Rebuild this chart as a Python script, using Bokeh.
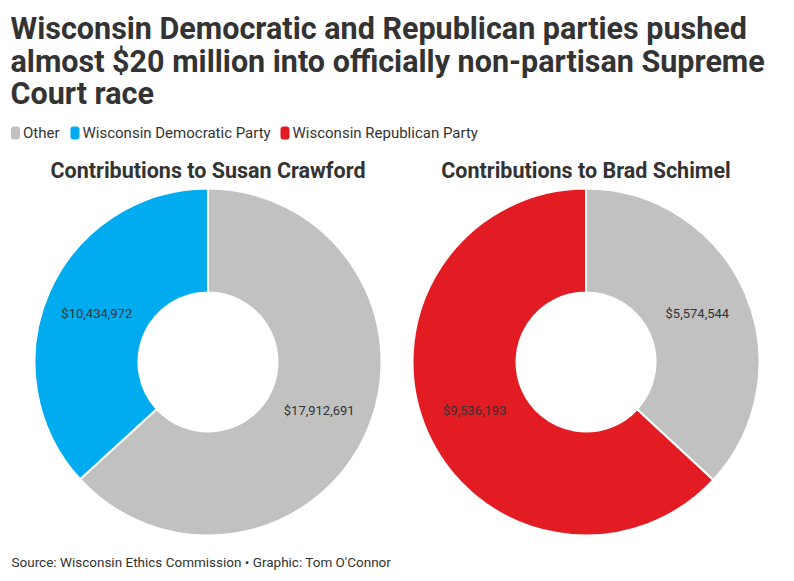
import numpy as np
from bokeh.plotting import figure
from bokeh.models import Range1d, ColumnDataSource
from bokeh.core.properties import value
from bokeh.embed import file_html
from bokeh.resources import INLINE

title_lines = ["Wisconsin Democratic and Republican parties pushed",
               "almost $20 million into officially non-partisan Supreme",
               "Court race"]
legend_labels = ["Other", "Wisconsin Democratic Party", "Wisconsin Republican Party"]
legend_colors = ["#c1c1c1", "#00acef", "#e31b23"]

candidates = ["Contributions to Susan Crawford", "Contributions to Brad Schimel"]
crawford_labels = ["Other", "Wisconsin Democratic Party"]
crawford_values = [17912691, 10434972]
crawford_colors = ["#c1c1c1", "#00acef"]
schimel_labels = ["Other", "Wisconsin Republican Party"]
schimel_values = [5574544, 9536193]
schimel_colors = ["#c1c1c1", "#e31b23"]
source_text = "Source: Wisconsin Ethics Commission \u2022 Graphic: Tom O'Connor"

W, H = 790, 572
OX, OY = 1, 1  # observed figure origin in the screenshot
p = figure(width=W, height=H, output_backend="svg", toolbar_location=None,
           x_range=Range1d(OX, OX + W), y_range=Range1d(581 - OY - H, 581 - OY),
           min_border=0, tools="")
p.axis.visible = False
p.grid.visible = False
p.outline_line_color = None
p.background_fill_color = "white"

def Y(img_y):
    return 581 - img_y

FONT = "Roboto"
TXT = "#333333"

# title
for line, yy in zip(title_lines, [29, 62, 94]):
    p.text(x=[11], y=[Y(yy)], text=[line], text_font=value(FONT), text_font_style="bold",
           text_font_size="30.5px", text_color=TXT, text_baseline="alphabetic", text_align="left")

# legend
legend_marker_x = [16, 75.5, 285.5]
for lab, col, mx in zip(legend_labels, legend_colors, legend_marker_x):
    p.rect(x=[mx], y=[Y(133.5)], width=9, height=13, fill_color=col, line_color=None,
           border_radius=3)
    p.text(x=[mx + 7.5], y=[Y(133.5)], text=[lab], text_font=value(FONT), text_font_size="15px",
           text_color=TXT, text_baseline="middle", text_align="left")

R_OUT, R_IN = 173.5, 69.5
centers = [(208.5, 362.5), (586.5, 362.5)]
datasets = [(crawford_labels, crawford_values, crawford_colors),
            (schimel_labels, schimel_values, schimel_colors)]

for (cx, cy), cand, (labs, vals, cols) in zip(centers, candidates, datasets):
    vals = np.array(vals, dtype=float)
    frac = vals / vals.sum()
    cum = np.concatenate([[0], np.cumsum(frac)])
    start = np.pi / 2 - 2 * np.pi * cum[:-1]
    end = np.pi / 2 - 2 * np.pi * cum[1:]
    mid = (start + end) / 2
    rl = (R_OUT + R_IN) / 2
    src = ColumnDataSource(dict(start=start, end=end, color=cols,
                                lx=cx + rl * np.cos(mid), ly=Y(cy) + rl * np.sin(mid),
                                lab=["$" + f"{int(v):,}" for v in vals]))
    p.annular_wedge(x=cx, y=Y(cy), inner_radius=R_IN, outer_radius=R_OUT,
                    start_angle="start", end_angle="end", direction="clock",
                    fill_color="color", line_color="white", line_width=2, source=src)
    p.text(x="lx", y="ly", text="lab", source=src, text_font=value(FONT),
           text_font_size="13px", text_color=TXT, text_align="center",
           text_baseline="middle")
    p.text(x=[cx], y=[Y(171)], text=[cand], text_font=value(FONT), text_font_style="bold",
           text_font_size="21.5px", text_color=TXT, text_align="center", text_baseline="middle")

p.text(x=[12], y=[Y(562)], text=[source_text], text_font=value(FONT), text_font_size="13.5px",
       text_color=TXT, text_align="left", text_baseline="middle")

open("out.html", "w").write(file_html(p, INLINE))
